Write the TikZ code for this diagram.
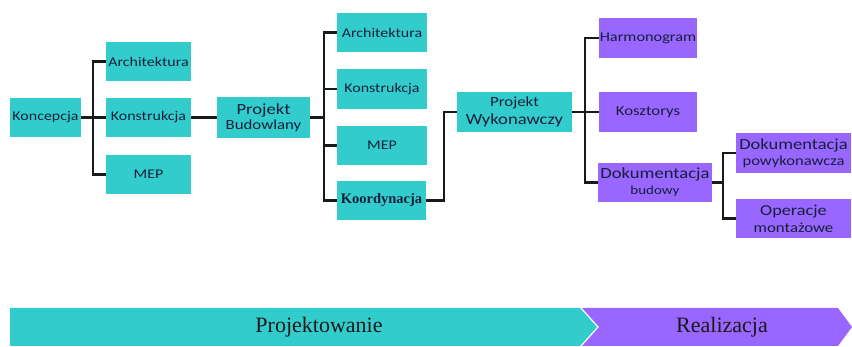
\documentclass[tikz,border=0pt]{standalone}
\usepackage{fontspec}
\newfontfamily\calfont[FakeStretch=1.2]{Carlito}
\newfontfamily\serfont{Liberation Serif}
\definecolor{tealbox}{HTML}{33CCCC}
\definecolor{purplebox}{HTML}{9966FF}
\definecolor{txt}{HTML}{16203A}
\tikzset{
  box/.style={rectangle, inner sep=0pt, text=txt, align=center,
    font=\calfont\fontsize{13.3}{15}\selectfont},
  tbox/.style={box, fill=tealbox},
  pbox/.style={box, fill=purplebox},
  conn/.style={line width=2.2pt, draw=black!90},
  bandtext/.style={text=black!90, font=\serfont\fontsize{22}{24}\selectfont},
}
\begin{document}
\begin{tikzpicture}[x=1pt,y=-1pt]
\useasboundingbox (0,0) rectangle (852,347);
% column 0
\node[tbox, minimum width=71pt, minimum height=39pt] (kon) at (45.5,117.5) {Koncepcja};
% column 1
\node[tbox, minimum width=85pt, minimum height=39pt] (a1) at (148.5,61.5) {Architektura};
\node[tbox, minimum width=85pt, minimum height=39pt] (k1) at (148.5,117.5) {Konstrukcja};
\node[tbox, minimum width=85pt, minimum height=39pt] (m1) at (148.5,174.5) {MEP};
% Projekt Budowlany
\node[tbox, minimum width=93pt, minimum height=41pt, font=\calfont\fontsize{14}{15}\selectfont] (pb) at (263.5,117.5) {{\fontsize{15.5}{15}\selectfont Projekt}\\Budowlany};
% column 2
\node[tbox, minimum width=90pt, minimum height=39pt] (a2) at (382,32.5) {Architektura};
\node[tbox, minimum width=90pt, minimum height=40pt] (k2) at (382,89) {Konstrukcja};
\node[tbox, minimum width=90pt, minimum height=39pt] (m2) at (382,145.5) {MEP};
\node[tbox, minimum width=89pt, minimum height=39pt, font=\serfont\bfseries\fontsize{14.5}{15}\selectfont] (ko) at (381.5,200.5) {Koordynacja};
% Projekt Wykonawczy
\node[tbox, minimum width=115pt, minimum height=40pt, font=\calfont\fontsize{15.5}{18}\selectfont] (pw) at (514.5,112) {{\fontsize{14}{18}\selectfont Projekt}\\Wykonawczy};
% purple column
\node[pbox, minimum width=98pt, minimum height=40pt, font=\calfont\fontsize{13.6}{15}\selectfont] (har) at (648,38) {Harmonogram};
\node[pbox, minimum width=98pt, minimum height=40pt, font=\calfont\fontsize{13.9}{15}\selectfont] (kos) at (648,112) {Kosztorys};
\node[pbox, minimum width=114pt, minimum height=39pt, font=\calfont\fontsize{12.5}{16}\selectfont] (db) at (655,182.5) {{\fontsize{15.5}{16}\selectfont Dokumentacja}\\budowy};
\node[pbox, minimum width=115pt, minimum height=40pt, font=\calfont\fontsize{13.8}{16}\selectfont] (dp) at (793.5,153) {{\fontsize{15.4}{16}\selectfont Dokumentacja}\\powykonawcza};
\node[pbox, minimum width=115pt, minimum height=39pt, font=\calfont\fontsize{14}{17}\selectfont] (om) at (793.5,218.5) {{\fontsize{15.2}{17}\selectfont Operacje}\\montażowe};
% bus coordinates
\coordinate (b1) at (93,0);
\coordinate (b2) at (324,0);
\coordinate (b3) at (444,0);
\coordinate (b4) at (585,0);
\coordinate (b5) at (723,0);
% connectors
\draw[conn] (kon.east) -- (k1.west);
\draw[conn] (a1.west) -- (a1.west -| b1) -- (m1.west -| b1) -- (m1.west);
\draw[conn] (k1.east) -- (pb.west);
\draw[conn] (pb.east) -- (pb.east -| b2);
\draw[conn] (a2.west) -- (a2.west -| b2) -- (ko.west -| b2) -- (ko.west);
\draw[conn] (k2.west) -- (k2.west -| b2);
\draw[conn] (m2.west) -- (m2.west -| b2);
\draw[conn] (ko.east) -- (ko.east -| b3) -- (pw.west -| b3) -- (pw.west);
\draw[conn] (pw.east) -- (kos.west);
\draw[conn] (har.west) -- (har.west -| b4) -- (db.west -| b4) -- (db.west);
\draw[conn] (db.east) -- (db.east -| b5);
\draw[conn] (dp.west) -- (dp.west -| b5) -- (om.west -| b5) -- (om.west);
% bottom band
\fill[tealbox] (10,308) -- (580,308) -- (597,327) -- (580,346) -- (10,346) -- cycle;
\fill[purplebox] (582,308) -- (838,308) -- (852,327) -- (838,346) -- (582,346) -- (599,327) -- cycle;
\node[bandtext] (proj) at (319,327) {Projektowanie};
\node[bandtext] (real) at (722,327) {Realizacja};
\end{tikzpicture}
\end{document}
